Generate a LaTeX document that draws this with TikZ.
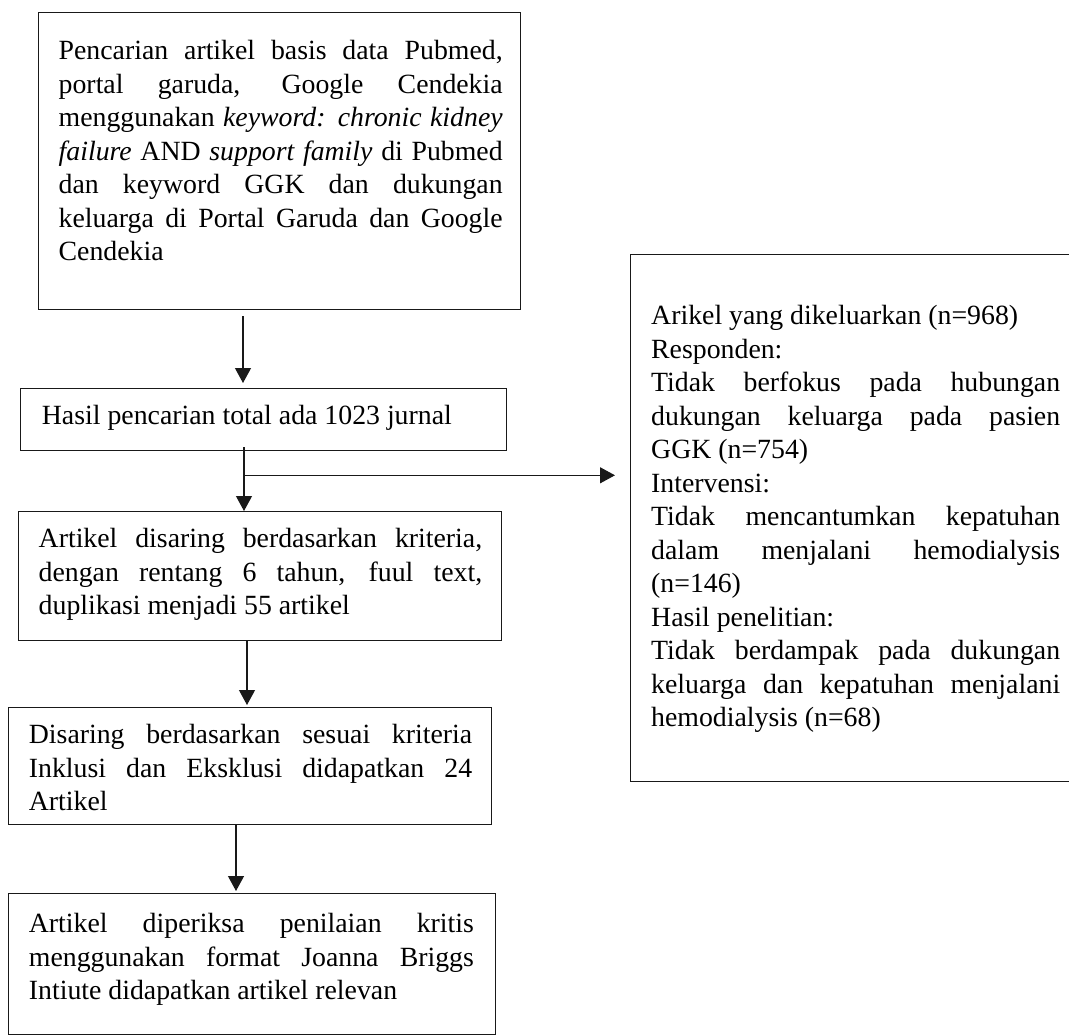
\documentclass[tikz,border=0pt]{standalone}
\usepackage{fontspec}
\setmainfont{Liberation Serif}
\usetikzlibrary{arrows.meta}
\begin{document}
\begin{tikzpicture}[x=1pt,y=-1pt,
  boxnode/.style={draw=black!90, line width=1.3pt, inner sep=0pt, anchor=north west},
  txt/.style={inner sep=0pt, anchor=north west, align=justify, font=\fontsize{27.8}{33.5}\selectfont},
  arr/.style={draw=black!90, line width=1.2pt, -{Triangle[length=15pt,width=16pt]}}]
\clip (0,0) rectangle (1069,1036);
% boxes
\node[boxnode, minimum width=482pt, minimum height=297pt] (b1) at (38,12) {};
\node[boxnode, minimum width=486pt, minimum height=62pt]  (b2) at (20,388) {};
\node[boxnode, minimum width=483pt, minimum height=129pt] (b3) at (18,511) {};
\node[boxnode, minimum width=483pt, minimum height=117pt] (b4) at (8,707) {};
\node[boxnode, minimum width=487pt, minimum height=141pt] (b5) at (8,893) {};
\node[boxnode, minimum width=445pt, minimum height=527pt] (rb) at (630,254) {};
% texts
\node[txt, text width=444pt] (t1) at (58.5,40.2) {Pencarian artikel basis data Pubmed,\linebreak
portal garuda, Google Cendekia\linebreak
menggunakan \textit{keyword: chronic kidney}\linebreak
\textit{failure} AND \textit{support family} di Pubmed\linebreak
dan keyword GGK dan dukungan\linebreak
keluarga di Portal Garuda dan Google\linebreak
Cendekia};
\node[inner sep=0pt, anchor=base west, font=\fontsize{27.8}{33.5}\selectfont] (t2) at (41.7,424) {Hasil pencarian total ada 1023 jurnal};
\node[txt, text width=443.5pt] (t3) at (38.5,528.2) {Artikel disaring berdasarkan kriteria,\linebreak
dengan rentang 6 tahun, fuul text,\linebreak
duplikasi menjadi 55 artikel};
\node[txt, text width=443.3pt] (t4) at (28.7,724.2) {Disaring berdasarkan sesuai kriteria\linebreak
Inklusi dan Eksklusi didapatkan 24\linebreak
Artikel};
\node[txt, text width=445pt] (t5) at (28.7,913.2) {Artikel diperiksa penilaian kritis\linebreak
menggunakan format Joanna Briggs\linebreak
Intiute didapatkan artikel relevan};
\node[txt, text width=409pt] (t6) at (651,305.2) {Arikel yang dikeluarkan (n=968)\newline
Responden:\newline
Tidak berfokus pada hubungan\linebreak
dukungan keluarga pada pasien\linebreak
GGK (n=754)\newline
Intervensi:\newline
Tidak mencantumkan kepatuhan\linebreak
dalam menjalani hemodialysis\linebreak
(n=146)\newline
Hasil penelitian:\newline
Tidak berdampak pada dukungan\linebreak
keluarga dan kepatuhan menjalani\linebreak
hemodialysis (n=68)};
% connectors
\draw[arr, shorten >=5pt] ([xshift=205pt,yshift=-6pt]b1.south west) -- ([xshift=223pt]b2.north west);
\draw[arr] ([xshift=224pt,yshift=4pt]b2.south west) -- ([xshift=226pt]b3.north west);
\coordinate (br) at ([xshift=224pt,yshift=-24pt]b2.south west);
\draw[arr, shorten >=15pt] (br) -- (rb.west |- br);
\draw[arr, shorten >=2pt] ([xshift=229pt]b3.south west) -- ([xshift=239pt]b4.north west);
\draw[arr, shorten >=2pt] ([xshift=228pt]b4.south west) -- ([xshift=228pt]b5.north west);
\end{tikzpicture}
\end{document}
